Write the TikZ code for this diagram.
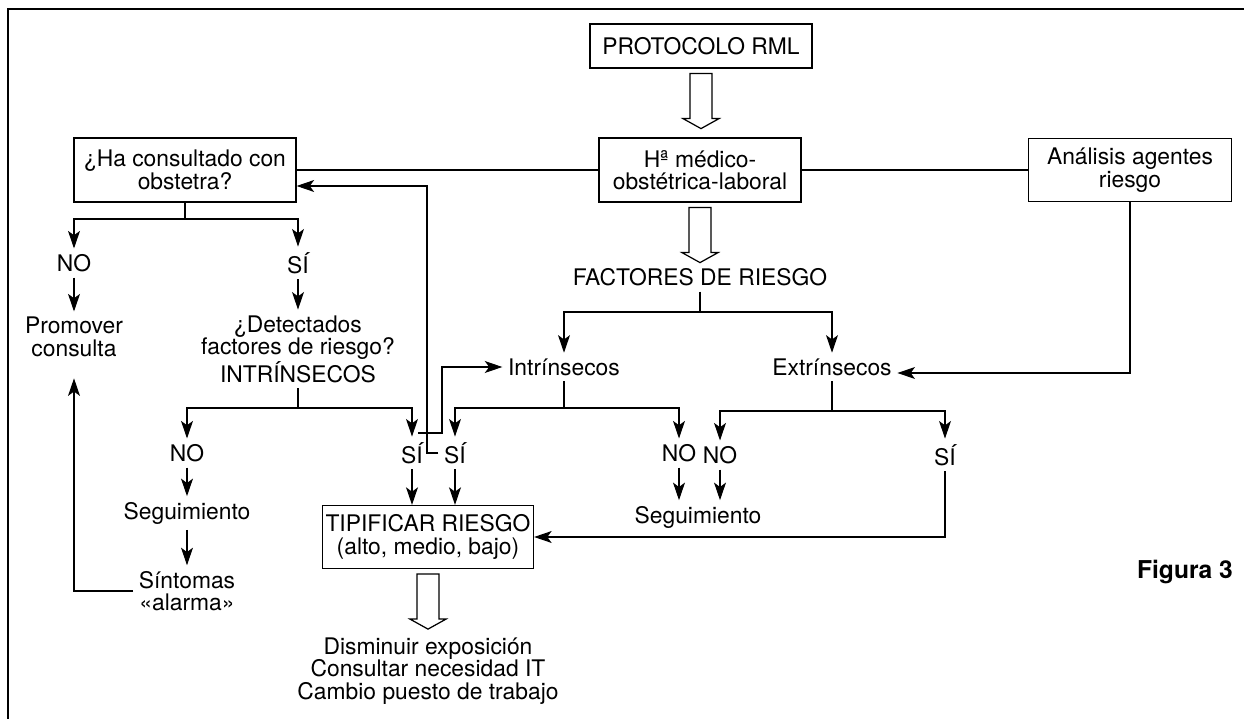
\documentclass[tikz,border=0pt]{standalone}
\usepackage{fontspec}
\setmainfont{TeX Gyre Heros}
\usetikzlibrary{arrows.meta}
\usetikzlibrary{positioning}

\tikzset{
  box/.style={draw, line width=0.7pt, align=center, inner sep=0pt},
  lbl/.style={align=center, inner sep=3pt},
  arr/.style={-{Stealth[length=10pt,width=6.8pt,inset=2.5pt]}},
  fatarrow/.pic={\draw[line width=0.7pt] (-11,5) -- (-11,50) -- (-18,50) -- (0,60) -- (18,50) -- (11,50) -- (11,5) -- cycle;}
}

\begin{document}
\begin{tikzpicture}[x=0.02cm, y=-0.02cm, font=\fontsize{13}{12.8}\selectfont, line width=0.6pt]
        \useasboundingbox (0,0) rectangle (1244,719);
        \draw[line width=1.6pt] (8,719) -- (8,9) -- (1244,9); % frame

        % boxes
        \node[box, minimum width=4.44cm, minimum height=0.88cm] (prot) at (701,46) {PROTOCOLO RML};
        \node[box, minimum width=4.04cm, minimum height=1.28cm] (hist) at (700,170) {Hª médico-\\obstétrica-laboral};
        \node[box, minimum width=4.44cm, minimum height=1.28cm] (obst) at (185,170) {¿Ha consultado con\\obstetra?};
        \node[box, minimum width=4.06cm, minimum height=1.26cm] (anal) at (1130,170) {Análisis agentes\\riesgo};
        \node[box, minimum width=4.22cm, minimum height=1.26cm] (tipif) at (428,537) {TIPIFICAR RIESGO\\(alto, medio, bajo)};

        % texts
        \node[lbl] (no1) at (74,263) {NO};
        \node[lbl] (si1) at (298,263) {SÍ};
        \node[lbl] (promo) at (74,337) {Promover\\consulta};
        \node[lbl] (detect) at (298,349) {¿Detectados\\factores de riesgo?\\INTRÍNSECOS};
        \node[lbl] (no2) at (187,453) {NO};
        \node[lbl] (si2) at (412,453) {SÍ};
        \node[lbl] (seg1) at (187,513) {Seguimiento};
        \node[lbl] (sint) at (187,591) {Síntomas\\«alarma»};
        \node[lbl] (factores) at (700,277) {FACTORES DE RIESGO};
        \node[lbl] (intr) at (564,367) {Intrínsecos};
        \node[lbl] (extr) at (832,367) {Extrínsecos};
        \node[lbl] (si3) at (455,453) {SÍ};
        \node[lbl] (no3) at (679,453) {NO};
        \node[lbl] (no4) at (720,455) {NO};
        \node[lbl] (si4) at (945,455) {SÍ};
        \node[lbl] (seg2) at (698,517) {Seguimiento};
        \node[lbl] (medidas) at (428,671) {Disminuir exposición\\Consultar necesidad IT\\Cambio puesto de trabajo};
        \node[lbl, font=\fontsize{14}{14}\selectfont\bfseries] (fig) at (1185,572) {Figura 3};

        % branch points
        \coordinate (b1) at (185,219);
        \coordinate (b2) at (298,408);
        \coordinate (b3) at (700,312);
        \coordinate (b4) at (564,408);
        \coordinate (b5) at (832,411);
        \coordinate (c1) at (427,186);
        \coordinate (c2) at (418,433);

        % hollow arrows
        \pic at (prot.south) {fatarrow};
        \pic at (hist.south) {fatarrow};
        \pic at (tipif.south) {fatarrow};

        % connectors
        \draw (obst) -- (hist);
        \draw (hist) -- (anal);
        \draw (obst.south) -- (b1);
        \draw[arr] (b1) -| (no1);
        \draw[arr] (b1) -| (si1);
        \draw[arr] (no1) -- (promo);
        \draw[arr] (si1) -- (detect);
        \draw (detect.south) -- (b2);
        \draw[arr] (b2) -| (no2);
        \draw[arr] (b2) -| (si2);
        \draw[arr] (no2) -- (seg1);
        \draw[arr] (seg1) -- (sint);
        \draw[arr, shorten >=9pt] (sint.west) -| (promo.south);
        \draw[arr] (si2) -- (si2 |- tipif.north);
        \draw[arr] (c2) -- (442,433) |- (intr.west);
        \draw[arr] (si3.west) -| (c1) -- (c1 -| obst.east);
        \draw (factores.south) -- (b3);
        \draw[arr] (b3) -| (intr);
        \draw[arr] (b3) -| (extr);
        \draw (intr.south) -- (b4);
        \draw[arr] (b4) -| (si3);
        \draw[arr] (b4) -| (no3);
        \draw (extr.south) -- (b5);
        \draw[arr] (b5) -| (no4);
        \draw[arr] (b5) -| (si4);
        \draw[arr] (si3) -- (si3 |- tipif.north);
        \draw[arr] (no3) -- (no3 |- seg2.north);
        \draw[arr] (no4) -- (no4 |- seg2.north);
        \draw[arr] (si4.south) |- (tipif.east);
        \draw[arr] (anal.south) |- (extr.east |- 0,373);
\end{tikzpicture}
\end{document}
